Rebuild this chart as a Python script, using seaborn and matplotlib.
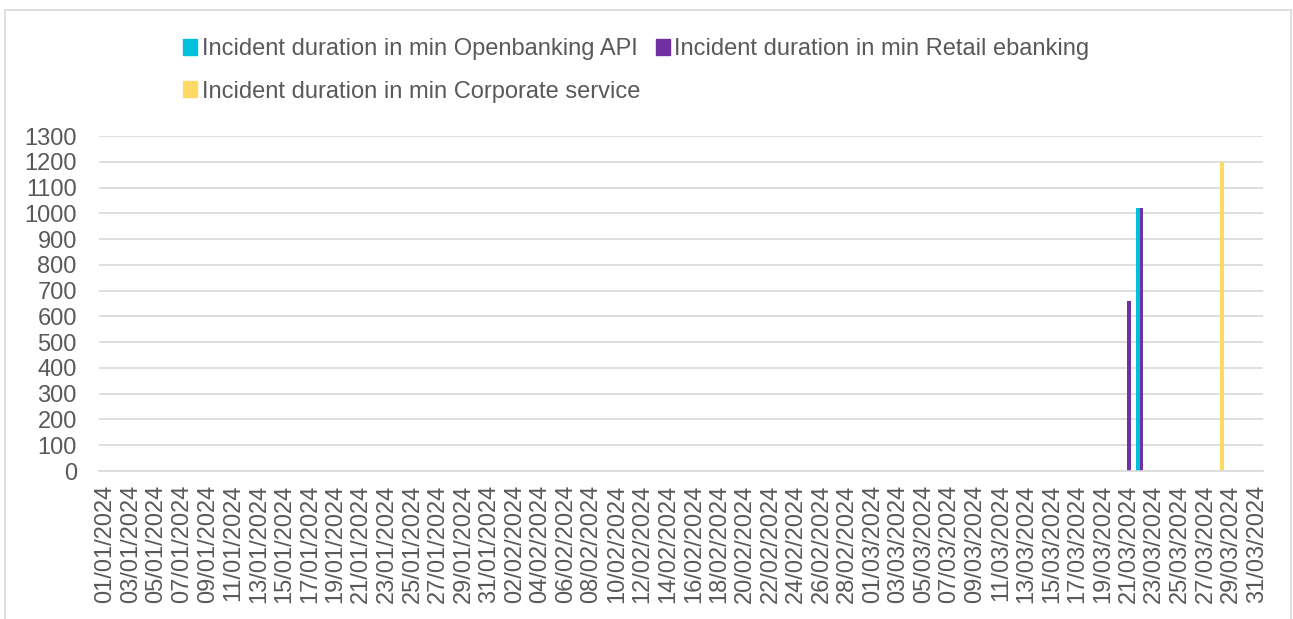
import pandas as pd
import numpy as np
import seaborn as sns
import matplotlib.pyplot as plt
from matplotlib.patches import Rectangle, Patch

# series names and colours
series = ["Incident duration in min Openbanking API",
          "Incident duration in min Retail ebanking",
          "Incident duration in min Corporate service"]
colors = ["#00C0DE", "#7030A0", "#FFD966"]

# days on the axis (Q1 2024)
days = pd.date_range("2024-01-01", "2024-03-31", freq="D").strftime("%d/%m/%Y").tolist()

# incidents
open_dates = ["22/03/2024"]
open_vals = [1020]
retail_dates = ["21/03/2024", "22/03/2024"]
retail_vals = [660, 1020]
corp_dates = ["28/03/2024"]
corp_vals = [1200]


def build_frame():
    rows = []
    lookup = {
        series[0]: dict(zip(open_dates, open_vals)),
        series[1]: dict(zip(retail_dates, retail_vals)),
        series[2]: dict(zip(corp_dates, corp_vals)),
    }
    for d in days:
        for s in series:
            rows.append({"date": d, "series": s, "minutes": lookup[s].get(d, 0)})
    return pd.DataFrame(rows)


data = build_frame()

sns.set_style("white")
plt.rcParams['font.family'] = ['Liberation Sans', 'DejaVu Sans']
text_col = "#595959"
fs = 17

fig = plt.figure(figsize=(12.93, 6.19), dpi=100)
ax = fig.add_axes([99 / 1293, 1 - 471 / 619, (1263 - 99) / 1293, (471 - 136) / 619])

sns.barplot(data=data, x="date", y="minutes", hue="series", hue_order=series,
            order=days, palette=colors, width=0.9, ax=ax, legend=False,
            saturation=1, linewidth=0)

ax.set_xlim(-0.5, len(days) - 0.5)
ax.set_ylim(0, 1300)
ax.set_yticks(range(0, 1301, 100))
ax.yaxis.grid(True, color="#D9D9D9", linewidth=1.2)
ax.set_axisbelow(True)

ax.set_xticks(range(0, len(days), 2))
ax.set_xticklabels(days[::2], rotation=90)
ax.set_xticks(np.arange(-0.5, len(days), 2), minor=True)
ax.tick_params(axis="x", which="major", length=0, pad=10, labelsize=fs, labelcolor=text_col)
ax.tick_params(axis="x", which="minor", length=5, color="#D9D9D9", width=1.2, direction="out")
ax.tick_params(axis="y", length=0, pad=16, labelsize=fs, labelcolor=text_col)
ax.set_xlabel("")
ax.set_ylabel("")

for side in ["top", "right", "left"]:
    ax.spines[side].set_visible(False)
ax.spines["bottom"].set_color("#D9D9D9")
ax.spines["bottom"].set_linewidth(1.2)

# legend laid out row-wise like the original
handles = [Patch(color=c) for c in colors]
order = [0, 2, 1]
fig.legend([handles[i] for i in order], [series[i] for i in order],
           loc="upper left", bbox_to_anchor=(183 / 1293, 1 - 38 / 619), ncol=2,
           frameon=False, fontsize=fs, handlelength=0.6, handleheight=0.64,
           handletextpad=0.2, columnspacing=0.65, labelspacing=0.87,
           borderpad=0, borderaxespad=0, labelcolor=text_col)

# outer chart border
fig.patches.append(Rectangle((5 / 1293, -0.05), (1291 - 5) / 1293, 1.05 - 10 / 619,
                             transform=fig.transFigure, fill=False,
                             edgecolor="#D9D9D9", linewidth=1.2))

fig.savefig("out.png", dpi=100)
